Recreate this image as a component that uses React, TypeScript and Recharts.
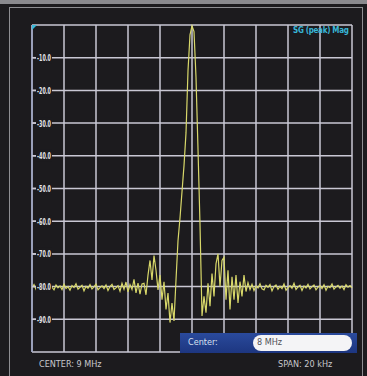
import { LineChart, Line, XAxis, YAxis, CartesianGrid } from "recharts";

// sweep bins, 0.125 kHz apart, relative to the 9 MHz centre
const LEVEL_DB = [
  -80.5, -79.4, -80.8, -79.9, -80.3, -81.2, -79.6, -80.1, -79.2, -80.7,
  -80.2, -81.0, -79.5, -80.4, -79.8, -80.9, -79.3, -80.6, -80.0, -81.1,
  -79.7, -80.3, -79.1, -80.8, -80.2, -79.6, -81.3, -79.9, -80.5, -79.4,
  -80.7, -80.1, -79.2, -81.0, -80.3, -79.8, -80.6, -79.5, -81.2, -80.0,
  -79.3, -80.9, -80.4, -79.7, -81.4, -79.0, -80.8, -78.6, -81.6, -79.4,
  -80.9, -77.8, -81.9, -78.9, -82.3, -79.2,
  // left sidelobe + main lobe + right sidelobe
  -79, -82.5, -76.5, -72, -78, -70.5, -75, -81, -76.5, -84,
  -78.5, -87, -82, -91, -85, -90.5, -78, -66, -59, -51,
  -43, -33, -14, -3, -0.3, -2, -16, -38, -61, -89,
  -83, -88, -79, -86, -76, -83, -73, -70, -80, -72,
  -71, -84, -75, -87, -77, -84, -76.5, -85, -78.5, -83,
  -76.5, -81.5, -78.8,
  -80.9, -79.3, -81.2, -79.8, -80.4, -79.1, -80.7, -81.0, -79.6, -80.2,
  -79.4, -81.3, -80.0, -79.5, -80.8, -79.9, -80.6, -79.2, -81.1, -80.3,
  -79.7, -80.5, -79.0, -80.9, -80.1, -79.6, -81.2, -79.8, -80.4, -79.3,
  -80.7, -80.0, -79.5, -81.0, -80.2, -79.7, -80.6, -79.4, -81.1, -79.9,
  -80.3, -79.2, -80.8, -80.1, -79.6, -80.5, -79.8, -80.9, -79.4, -80.2,
  -79.7, -80.4,
];
const START_KHZ = -10;
const STEP_KHZ = 0.125;

const X_TICKS = [-10, -8, -6, -4, -2, 0, 2, 4, 6, 8, 10];
const Y_TICKS = [-100, -90, -80, -70, -60, -50, -40, -30, -20, -10, 0];
const Y_LABELS = [-90, -80, -70, -60, -50, -40, -30, -20, -10];

const data = LEVEL_DB.map((db, i) => ({ f: START_KHZ + i * STEP_KHZ, db }));

const BG = "#1c1b1e";
const GRID = "#c9c8d4";
const TRACE = "#d8d86a";
const FONT = "'DejaVu Sans Condensed', 'Liberation Sans', sans-serif";

const renderYTick = (props: any) => {
  const { y, payload } = props;
  const v = Number(payload.value);
  if (!Y_LABELS.includes(v)) return <g />;
  const x0 = 32;
  return (
    <g>
      <line x1={x0} y1={y} x2={x0 + 4} y2={y} stroke={GRID} strokeWidth={1.5} />
      <rect x={x0 + 4} y={y - 6} width={16} height={12} fill={BG} />
      <text
        x={x0 + 5}
        y={y + 3.5}
        fill="#e6e6ea"
        fontSize={8.5}
        fontWeight="bold"
        fontFamily={FONT}
        textLength={14}
        lengthAdjust="spacingAndGlyphs"
      >
        {v.toFixed(1)}
      </text>
    </g>
  );
};

export default function App() {
  return (
    <div style={{ position: "absolute", left: 0, top: 0, width: 367, height: 376, background: BG, overflow: "hidden" }}>
      <div style={{ position: "absolute", left: 0, top: 0, width: 367, height: 4, background: "#8a8a8e" }} />
      <div style={{ position: "absolute", left: 9, top: 7, width: 354, height: 372, border: "1.5px solid #8e8e92", boxSizing: "border-box" }} />
      <div style={{ position: "absolute", left: 0, top: 0 }}>
        <LineChart width={367} height={376} data={data} margin={{ top: 25, right: 15, bottom: 24, left: 31 }}>
          <CartesianGrid stroke={GRID} strokeWidth={1.5} />
          <XAxis dataKey="f" type="number" domain={[-10, 10]} ticks={X_TICKS} hide />
          <YAxis
            type="number"
            domain={[-100, 0]}
            ticks={Y_TICKS}
            width={1}
            tickLine={false}
            axisLine={{ stroke: "#9aa2c0", strokeWidth: 1.5 }}
            tick={renderYTick}
            interval={0}
          />
          <Line dataKey="db" stroke={TRACE} strokeWidth={1.2} dot={false} isAnimationActive={false} />
        </LineChart>
      </div>
      <svg style={{ position: "absolute", left: 32, top: 25 }} width={6} height={6}>
        <polygon points="0,0 5,0 0,5" fill="#3ab8d8" />
      </svg>
      <div style={{ position: "absolute", left: 293, top: 26, fontFamily: FONT, fontSize: 8, fontWeight: "bold", color: "#38b6d8", whiteSpace: "nowrap", letterSpacing: -0.3 }}>
        SG (peak) Mag
      </div>
      <div style={{ position: "absolute", left: 180, top: 333, width: 177, height: 20, background: "linear-gradient(#2a4a9c, #1d3680)" }}>
        <span style={{ position: "absolute", left: 8, top: 4, fontFamily: FONT, fontSize: 9, color: "#d8e0f0" }}>Center:</span>
        <div style={{ position: "absolute", left: 73, top: 2, width: 99, height: 16, background: "#f4f4f6", borderRadius: 8 }}>
          <span style={{ position: "absolute", left: 4, top: 2, fontFamily: FONT, fontSize: 9, color: "#505058" }}>8 MHz</span>
        </div>
      </div>
      <div style={{ position: "absolute", left: 39, top: 359, fontFamily: FONT, fontSize: 9, color: "#c8c8cc" }}>
        CENTER: 9 MHz
      </div>
      <div style={{ position: "absolute", left: 278, top: 359, fontFamily: FONT, fontSize: 9, color: "#c8c8cc" }}>
        SPAN: 20 kHz
      </div>
    </div>
  );
}
